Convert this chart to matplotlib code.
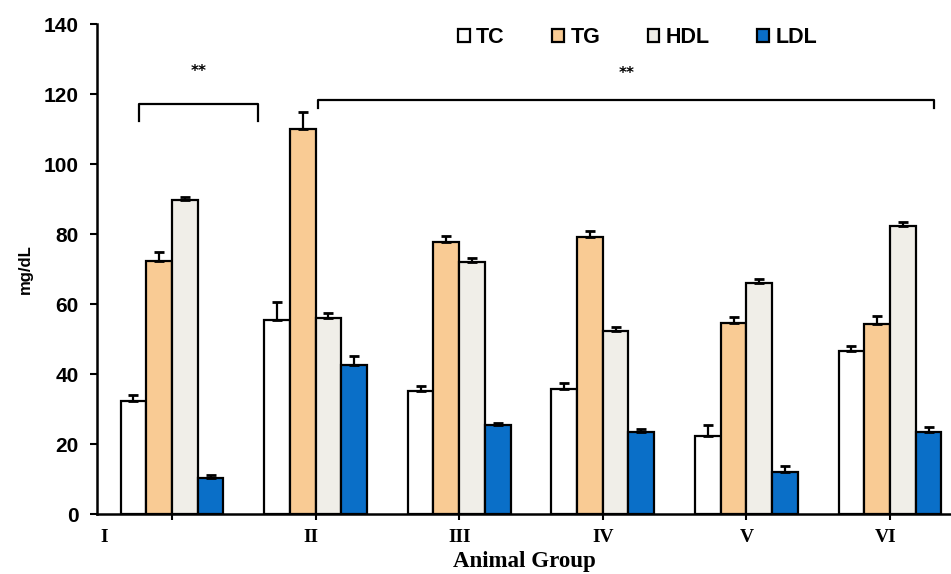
import matplotlib
matplotlib.use("Agg")
import matplotlib.pyplot as plt
import numpy as np
from matplotlib.patches import Patch

groups = ["I", "II", "III", "IV", "V", "VI"]
series = ["TC", "TG", "HDL", "LDL"]
tc = [32.5, 55.5, 35.2, 35.7, 22.4, 46.5]
tg = [72.4, 110.0, 77.8, 79.3, 54.7, 54.4]
hdl = [89.8, 56.2, 72.1, 52.4, 66.0, 82.4]
ldl = [10.4, 42.7, 25.5, 23.6, 12.2, 23.6]
tc_err = [1.6, 5.2, 1.5, 1.9, 3.1, 1.6]
tg_err = [2.5, 5.0, 1.7, 1.7, 1.6, 2.3]
hdl_err = [0.7, 1.2, 1.2, 1.2, 1.1, 1.2]
ldl_err = [0.8, 2.6, 0.7, 0.7, 1.6, 1.4]
y_ticks = [0, 20, 40, 60, 80, 100, 120, 140]
label_offsets = [-0.47, -0.03, 0, 0, 0, -0.03]

values = [tc, tg, hdl, ldl]
errors = [tc_err, tg_err, hdl_err, ldl_err]
colors = ["#FFFFFF", "#F9CB94", "#F0EEE8", "#0A6FC8"]

fig = plt.figure(figsize=(9.51, 5.74), dpi=100)
ax = fig.add_axes([0.102, 0.104, 0.898, 0.854])

x = np.arange(len(groups))
w = 0.179
for i, (vals, errs, c) in enumerate(zip(values, errors, colors)):
    pos = x + (i - 1.5) * w
    ax.bar(pos, vals, width=w, color=c, edgecolor="black", linewidth=1.6, zorder=2)
    ax.errorbar(pos, vals, yerr=[np.zeros(len(vals)), errs], fmt="none",
                ecolor="black", elinewidth=1.6, capsize=3.5, capthick=2, zorder=3)

ax.set_xlim(-0.522, 5.425)
ax.set_ylim(0, 140)
ax.set_yticks(y_ticks)
ax.set_yticklabels([str(v) for v in y_ticks], fontfamily="Liberation Sans",
                   fontweight="bold", fontsize=15)
ax.set_xticks(x)
ax.set_xticklabels([])
for xi, g, off in zip(x, groups, label_offsets):
    ax.text(xi + off, -4.3, g, ha="center", va="top", fontfamily="Liberation Serif",
            fontweight="bold", fontsize=14, transform=ax.transData, clip_on=False)

ax.spines["top"].set_visible(False)
ax.spines["right"].set_visible(False)
ax.spines["left"].set_linewidth(1.8)
ax.spines["bottom"].set_linewidth(1.8)
ax.tick_params(axis="y", direction="out", length=5, width=1.5, pad=8)
ax.tick_params(axis="x", direction="out", length=4, width=1.5)

ax.set_ylabel("mg/dL", fontfamily="Liberation Sans", fontweight="bold", fontsize=12, labelpad=8)
ax.set_xlabel("Animal Group", fontfamily="Liberation Serif", fontweight="bold", fontsize=16.5, labelpad=19)

# significance brackets
def bracket(x0, x1, ytop, yend, txt, ytxt):
    ax.plot([x0, x0, x1, x1], [yend, ytop, ytop, yend], color="black", lw=1.6,
            clip_on=False, zorder=4)
    ax.text((x0 + x1) / 2, ytxt, txt, ha="center", va="center", fontsize=11,
            fontweight="bold", fontfamily="DejaVu Sans")

bracket(-0.23, 0.6, 117.1, 112.4, "**", 126.5)
bracket(1.02, 5.31, 118.3, 116.0, "**", 126.0)

handles = [Patch(facecolor=c, edgecolor="black", linewidth=1.6) for c in colors]
leg = ax.legend(handles, series, loc="center", bbox_to_anchor=(0.633, 0.972),
                ncol=4, frameon=False, handlelength=0.55, handleheight=0.55,
                handletextpad=0.3, columnspacing=2.2,
                prop={"family": "Liberation Sans", "weight": "bold", "size": 15.5})

fig.savefig("out.png", dpi=100)
